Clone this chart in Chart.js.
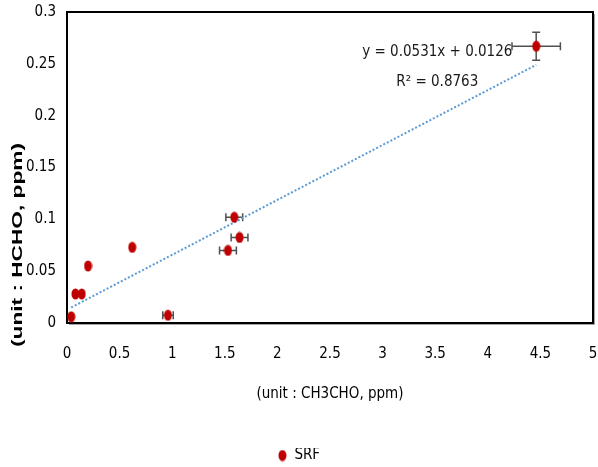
<!DOCTYPE html>
<html>
<head>
<meta charset="utf-8">
<script src="https://cdn.jsdelivr.net/npm/chart.js@4.4.0/dist/chart.umd.min.js"></script>
<style>
  html,body{margin:0;padding:0;background:#fff}
</style>
</head>
<body>
<canvas id="c" width="598" height="467"></canvas>
<script>
// values
const srfX    = [0.04, 0.08, 0.14, 0.20, 0.62, 0.96, 1.53, 1.59, 1.64, 4.46];
const srfY    = [0.006, 0.028, 0.028, 0.055, 0.073, 0.0075, 0.070, 0.102, 0.0825, 0.267];
const srfXErr = [0, 0, 0, 0, 0, 0.05, 0.08, 0.08, 0.08, 0.23];
const srfYErr = [0, 0, 0, 0, 0, 0, 0, 0, 0, 0.0135];
const trendX  = [0.04, 4.46];
const trendY  = [0.015, 0.249];
const eqLines = ['y = 0.0531x + 0.0126', 'R² = 0.8763'];
const eqPos   = [[3.52, 0.261], [3.52, 0.232]];

const FONT = '"Liberation Sans Narrow", "DejaVu Sans Condensed", sans-serif';

// tall red ellipse used as marker (and in legend)
function ellipseMarker(w, h){
  const cv = document.createElement('canvas');
  cv.width = w; cv.height = h;
  const g = cv.getContext('2d');
  g.fillStyle = '#c00000';
  g.beginPath();
  g.ellipse(w/2, h/2, w/2 - 0.5, h/2 - 0.5, 0, 0, Math.PI*2);
  g.fill();
  return cv;
}
const marker = ellipseMarker(9, 12);

const framePlugin = {
  id: 'frame',
  beforeDatasetsDraw(chart){
    const {ctx, chartArea: a} = chart;
    ctx.save();
    ctx.strokeStyle = '#000';
    ctx.lineWidth = 2;
    ctx.strokeRect(a.left, a.top, a.right - a.left, a.bottom - a.top);
    ctx.strokeStyle = 'rgba(0,0,0,0.35)';
    ctx.lineWidth = 1;
    ctx.beginPath();
    ctx.moveTo(a.right + 1.5, a.top + 2);
    ctx.lineTo(a.right + 1.5, a.bottom + 1.5);
    ctx.lineTo(a.left + 2, a.bottom + 1.5);
    ctx.stroke();
    ctx.restore();
  }
};

const errorBars = {
  id: 'errorBars',
  beforeDatasetsDraw(chart){
    const {ctx, scales: {x, y}} = chart;
    ctx.save();
    ctx.strokeStyle = '#505050';
    ctx.lineWidth = 1.5;
    const cap = 4;
    srfX.forEach((vx, i) => {
      const px = x.getPixelForValue(vx), py = y.getPixelForValue(srfY[i]);
      if (srfXErr[i]) {
        const l = x.getPixelForValue(vx - srfXErr[i]), r = x.getPixelForValue(vx + srfXErr[i]);
        ctx.beginPath();
        ctx.moveTo(l, py); ctx.lineTo(r, py);
        ctx.moveTo(l, py - cap); ctx.lineTo(l, py + cap);
        ctx.moveTo(r, py - cap); ctx.lineTo(r, py + cap);
        ctx.stroke();
      }
      if (srfYErr[i]) {
        const t = y.getPixelForValue(srfY[i] + srfYErr[i]), b = y.getPixelForValue(srfY[i] - srfYErr[i]);
        ctx.beginPath();
        ctx.moveTo(px, t); ctx.lineTo(px, b);
        ctx.moveTo(px - cap, t); ctx.lineTo(px + cap, t);
        ctx.moveTo(px - cap, b); ctx.lineTo(px + cap, b);
        ctx.stroke();
      }
    });
    ctx.restore();
  }
};

const textPlugin = {
  id: 'texts',
  afterDraw(chart){
    const {ctx, scales: {x, y}} = chart;
    ctx.save();
    ctx.fillStyle = '#1a1a1a';
    ctx.font = '15px ' + FONT;
    ctx.textAlign = 'center';
    ctx.textBaseline = 'middle';
    eqLines.forEach((t, i) => {
      ctx.fillText(t, x.getPixelForValue(eqPos[i][0]), y.getPixelForValue(eqPos[i][1]));
    });
    // y axis title, stretched to the length it has in the picture
    const title = '(unit : HCHO, ppm)';
    ctx.font = 'bold 15px "Liberation Sans", sans-serif';
    const w = ctx.measureText(title).width;
    ctx.translate(18, 245);
    ctx.rotate(-Math.PI/2);
    ctx.scale(204 / w, 1);
    ctx.fillStyle = '#000';
    ctx.fillText(title, 0, 0);
    ctx.restore();
  }
};

const fmt = v => String(+v.toFixed(2));

new Chart(document.getElementById('c'), {
  type: 'scatter',
  data: {
    datasets: [
      {
        label: 'SRF',
        data: srfX.map((v, i) => ({x: v, y: srfY[i]})),
        pointStyle: marker,
        order: 0
      },
      {
        type: 'line',
        label: 'trend',
        data: trendX.map((v, i) => ({x: v, y: trendY[i]})),
        borderColor: '#5b9bd5',
        borderWidth: 2,
        borderDash: [2, 2],
        pointRadius: 0,
        fill: false,
        order: 1
      }
    ]
  },
  options: {
    responsive: false,
    animation: false,
    layout: {padding: {top: 12, right: 0, left: 0, bottom: -6}},
    plugins: {
      tooltip: {enabled: false},
      legend: {
        position: 'bottom',
        labels: {
          usePointStyle: true,
          pointStyleWidth: 9,
          color: '#000',
          font: {family: FONT, size: 15},
          padding: 0,
          filter: item => item.datasetIndex === 0
        }
      }
    },
    scales: {
      x: {
        type: 'linear', min: 0, max: 5,
        grid: {display: false, drawTicks: false},
        border: {display: false},
        ticks: {stepSize: 0.5, padding: 22, color: '#000', font: {family: FONT, size: 15}, callback: fmt, maxRotation: 0},
        title: {display: true, text: '(unit : CH3CHO, ppm)', color: '#000', font: {family: FONT, size: 15}, padding: {top: 0, bottom: 45}},
        afterFit: s => { s.height = 125; s.paddingLeft = 0; s.paddingRight = 3; }
      },
      y: {
        type: 'linear', min: 0, max: 0.3,
        grid: {display: false, drawTicks: false},
        border: {display: false},
        ticks: {stepSize: 0.05, padding: 11, color: '#000', font: {family: FONT, size: 15}, callback: fmt},
        afterFit: s => { s.width = 67; s.paddingTop = 0; s.paddingBottom = 0; }
      }
    }
  },
  plugins: [framePlugin, errorBars, textPlugin]
});
</script>
</body>
</html>
